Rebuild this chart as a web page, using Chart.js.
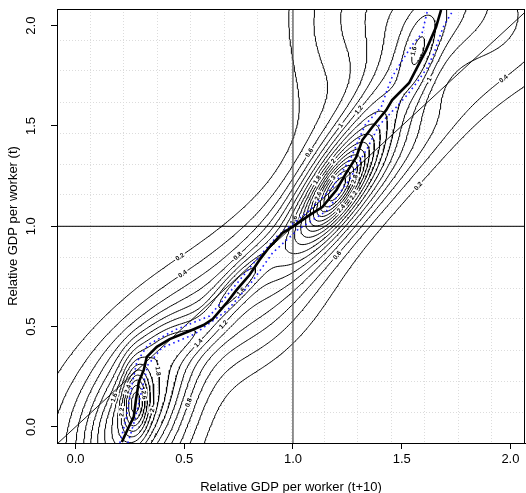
<!DOCTYPE html>
<html>
<head>
<meta charset="utf-8">
<script src="https://cdn.jsdelivr.net/npm/chart.js@4/dist/chart.umd.min.js"></script>
<style>
  html, body { margin: 0; padding: 0; background: #ffffff; }
  #wrap { width: 526px; height: 493px; }
</style>
</head>
<body>
<div id="wrap"><canvas id="c"></canvas></div>
<script>
// ---- axes ----
const xRange = [-0.085, 2.067];
const yRange = [-0.08, 2.083];
const xTicks = [0, 0.5, 1, 1.5, 2];
const yTicks = [0, 0.5, 1, 1.5, 2];
const gridDivisions = 14;

// ---- density surface: elliptical bumps (centre, orientation in degrees, long / short spread, height) ----
const bumpX     = [0.275, 0.24, 0.15, 0.40, 0.47, 0.74, 0.65, 1.20, 1.22, 1.10, 1.45, 1.72, 1.58, 1.12, 1.48, 0.90, 1.38];
const bumpY     = [0.140, 0.00, 0.15, -0.05, 0.44, 0.70, 0.60, 1.18, 1.24, 1.10, 1.65, 2.10, 1.85, 1.75, 1.32, 0.50, 1.95];
const bumpAngle = [88, 65, 55, 75, 22, 52, 42, 60, 60, 50, 62, 0, 78, 88, 45, 50, 85];
const bumpLong  = [0.12, 0.28, 0.40, 0.30, 0.16, 0.16, 0.45, 0.13, 0.30, 0.40, 0.45, 0.38, 0.16, 0.50, 0.50, 0.25, 0.35];
const bumpShort = [0.04, 0.12, 0.17, 0.13, 0.07, 0.045, 0.16, 0.05, 0.09, 0.14, 0.12, 0.25, 0.055, 0.12, 0.095, 0.12, 0.14];
const bumpH     = [1.10, 1.40, 0.45, 0.50, 0.40, 0.70, 0.70, 1.10, 1.30, 0.50, 0.60, 0.80, 0.45, 0.20, 0.45, 0.25, 0.30];

// contour levels
const levels = [0.2, 0.4, 0.6, 0.8, 1, 1.2, 1.4, 1.6, 1.8, 2, 2.2, 2.4, 2.6, 2.8, 3, 3.2, 3.4];

// ---- conditional mode path ----
const pathX = [0.213, 0.245, 0.268, 0.278, 0.291, 0.314, 0.328, 0.374, 0.433, 0.525, 0.589, 0.631, 0.695, 0.741, 0.800, 0.846, 0.892, 0.952, 0.998, 1.076, 1.135, 1.200, 1.245, 1.291, 1.319, 1.365, 1.429, 1.456, 1.534, 1.612, 1.658, 1.681];
const pathY = [-0.075, 0.000, 0.050, 0.135, 0.224, 0.284, 0.349, 0.399, 0.438, 0.478, 0.508, 0.538, 0.618, 0.683, 0.757, 0.832, 0.897, 0.967, 0.997, 1.056, 1.096, 1.181, 1.266, 1.345, 1.430, 1.495, 1.579, 1.629, 1.714, 1.878, 1.993, 2.078];

// ---- band either side of the path ----
const bandLoX = [0.204, 0.232, 0.255, 0.282, 0.333, 0.456, 0.617, 0.718, 0.823, 0.929, 1.067, 1.181, 1.268, 1.332, 1.406, 1.433, 1.456, 1.498, 1.548, 1.594, 1.617];
const bandLoY = [-0.080, 0.035, 0.184, 0.324, 0.409, 0.483, 0.553, 0.683, 0.822, 0.952, 1.071, 1.191, 1.345, 1.505, 1.594, 1.679, 1.744, 1.819, 1.903, 1.963, 2.068];
const bandHiX = [0.241, 0.273, 0.305, 0.333, 0.397, 0.548, 0.700, 0.814, 0.906, 1.021, 1.154, 1.259, 1.342, 1.397, 1.475, 1.525, 1.571, 1.617, 1.649, 1.672, 1.695, 1.732];
const bandHiY = [-0.080, 0.035, 0.184, 0.309, 0.394, 0.463, 0.583, 0.727, 0.867, 0.982, 1.076, 1.231, 1.390, 1.505, 1.594, 1.654, 1.719, 1.789, 1.863, 1.938, 2.003, 2.068];

const FONT = "'Liberation Sans', Arial, Helvetica, sans-serif";

// ---- surface evaluation ----
const bumpCos = bumpAngle.map((a) => Math.cos(a * Math.PI / 180));
const bumpSin = bumpAngle.map((a) => Math.sin(a * Math.PI / 180));
function surface(x, y) {
  let s = 0;
  for (let k = 0; k < bumpX.length; k++) {
    const dx = x - bumpX[k], dy = y - bumpY[k];
    const u = (dx * bumpCos[k] + dy * bumpSin[k]) / bumpLong[k];
    const v = (-dx * bumpSin[k] + dy * bumpCos[k]) / bumpShort[k];
    s += bumpH[k] * Math.exp(-(u * u + v * v) / 2);
  }
  return s;
}

// ---- marching squares, chained into polylines ----
function buildContours() {
  const nx = 260, ny = 260;
  const x0 = xRange[0] - 0.02, x1 = xRange[1] + 0.02;
  const y0 = yRange[0] - 0.02, y1 = yRange[1] + 0.02;
  const gx = [], gy = [];
  for (let i = 0; i < nx; i++) gx.push(x0 + (x1 - x0) * i / (nx - 1));
  for (let j = 0; j < ny; j++) gy.push(y0 + (y1 - y0) * j / (ny - 1));
  const f = new Float64Array(nx * ny);
  for (let j = 0; j < ny; j++) for (let i = 0; i < nx; i++) f[j * nx + i] = surface(gx[i], gy[j]);
  const F = (i, j) => f[j * nx + i];

  const out = [];
  levels.forEach((L) => {
    const pts = new Map();
    const segs = [];
    const hKey = (i, j) => (j * nx + i) * 2;
    const vKey = (i, j) => (j * nx + i) * 2 + 1;
    const pt = (key) => {
      if (pts.has(key)) return key;
      const cell = key >> 1, i = cell % nx, j = (cell - i) / nx;
      let p;
      if ((key & 1) === 0) {
        const a = F(i, j), b = F(i + 1, j), t = (L - a) / (b - a);
        p = { x: gx[i] + t * (gx[i + 1] - gx[i]), y: gy[j] };
      } else {
        const a = F(i, j), b = F(i, j + 1), t = (L - a) / (b - a);
        p = { x: gx[i], y: gy[j] + t * (gy[j + 1] - gy[j]) };
      }
      pts.set(key, p);
      return key;
    };
    for (let j = 0; j < ny - 1; j++) {
      for (let i = 0; i < nx - 1; i++) {
        const v0 = F(i, j), v1 = F(i + 1, j), v2 = F(i + 1, j + 1), v3 = F(i, j + 1);
        const code = (v0 > L ? 1 : 0) | (v1 > L ? 2 : 0) | (v2 > L ? 4 : 0) | (v3 > L ? 8 : 0);
        if (code === 0 || code === 15) continue;
        const B = hKey(i, j), R = vKey(i + 1, j), T = hKey(i, j + 1), Lf = vKey(i, j);
        const add = (a, b) => segs.push([pt(a), pt(b)]);
        const centre = (v0 + v1 + v2 + v3) / 4 > L;
        switch (code) {
          case 1: case 14: add(Lf, B); break;
          case 2: case 13: add(B, R); break;
          case 3: case 12: add(Lf, R); break;
          case 4: case 11: add(R, T); break;
          case 6: case 9: add(B, T); break;
          case 7: case 8: add(Lf, T); break;
          case 5: if (centre) { add(Lf, T); add(B, R); } else { add(Lf, B); add(R, T); } break;
          case 10: if (centre) { add(Lf, B); add(R, T); } else { add(B, R); add(Lf, T); } break;
        }
      }
    }
    const adj = new Map();
    segs.forEach((s, k) => {
      for (const e of s) { if (!adj.has(e)) adj.set(e, []); adj.get(e).push(k); }
    });
    const used = new Uint8Array(segs.length);
    const walk = (start, list) => {
      let end = start;
      for (;;) {
        const nb = adj.get(end).find((m) => !used[m]);
        if (nb === undefined) break;
        used[nb] = 1;
        const s = segs[nb];
        end = s[0] === end ? s[1] : s[0];
        list.push(end);
      }
    };
    for (let k = 0; k < segs.length; k++) {
      if (used[k]) continue;
      used[k] = 1;
      const fwd = [segs[k][0], segs[k][1]];
      walk(segs[k][1], fwd);
      const back = [];
      walk(segs[k][0], back);
      const chain = back.reverse().concat(fwd);
      out.push({ level: L, points: chain.map((key) => pts.get(key)) });
    }
  });
  return out;
}

const contours = buildContours();

// ---- datasets ----
const datasets = [];
contours.forEach((c) => {
  datasets.push({
    data: c.points, showLine: true, borderColor: '#000000', borderWidth: 1,
    pointRadius: 0, tension: 0, order: 10
  });
});
const toXY = (xs, ys) => xs.map((x, i) => ({ x: x, y: ys[i] }));
// reference lines: x = 1, y = 1 and the 45 degree line
datasets.push({ data: [{ x: 1, y: yRange[0] }, { x: 1, y: yRange[1] }], showLine: true, borderColor: '#555555', borderWidth: 1.3, pointRadius: 0, order: 5 });
datasets.push({ data: [{ x: xRange[0], y: 1 }, { x: xRange[1], y: 1 }], showLine: true, borderColor: '#000000', borderWidth: 1, pointRadius: 0, order: 5 });
datasets.push({ data: [{ x: xRange[0], y: xRange[0] }, { x: xRange[1], y: xRange[1] }], showLine: true, borderColor: '#000000', borderWidth: 0.9, pointRadius: 0, order: 5 });
// band and path
datasets.push({ data: toXY(bandLoX, bandLoY), showLine: true, borderColor: '#1a1aff', borderWidth: 1.6, borderDash: [1.6, 3.4], pointRadius: 0, order: 2 });
datasets.push({ data: toXY(bandHiX, bandHiY), showLine: true, borderColor: '#1a1aff', borderWidth: 1.6, borderDash: [1.6, 3.4], pointRadius: 0, order: 2 });
datasets.push({ data: toXY(pathX, pathY), showLine: true, borderColor: '#000000', borderWidth: 2.6, pointRadius: 0, order: 1 });

// ---- contour labels placed on the flattest stretch of each line ----
const contourLabels = {
  id: 'contourLabels',
  afterDatasetDraw(chart, args) {
    if (args.index !== 0) return;
    const ctx = chart.ctx, xs = chart.scales.x, ys = chart.scales.y, area = chart.chartArea;
    ctx.save();
    ctx.font = 'bold 6.5px ' + FONT;
    const placed = [];
    const order = contours.map((c, i) => i).sort((a, b) => contours[a].level - contours[b].level);
    order.forEach((ci) => {
      const c = contours[ci];
      const text = String(c.level);
      const tw = ctx.measureText(text).width;
      const need = tw + 5;
      const P = c.points.map((p) => ({ x: xs.getPixelForValue(p.x), y: ys.getPixelForValue(p.y) }));
      const cum = [0];
      for (let k = 1; k < P.length; k++) cum.push(cum[k - 1] + Math.hypot(P[k].x - P[k - 1].x, P[k].y - P[k - 1].y));
      if (cum[cum.length - 1] < need * 2) return;
      let best = null;
      let b = 0;
      for (let a = 0; a < P.length; a++) {
        if (b < a) b = a;
        while (b < P.length && cum[b] - cum[a] < need) b++;
        if (b >= P.length) break;
        const ax = P[a].x, ay = P[a].y, bx = P[b].x, by = P[b].y;
        const len = Math.hypot(bx - ax, by - ay) || 1;
        let dev = 0;
        for (let m = a + 1; m < b; m++) {
          const d = Math.abs((bx - ax) * (ay - P[m].y) - (ax - P[m].x) * (by - ay)) / len;
          if (d > dev) dev = d;
        }
        const cx = (ax + bx) / 2, cy = (ay + by) / 2;
        if (cx < area.left + 8 || cx > area.right - 8 || cy < area.top + 8 || cy > area.bottom - 8) continue;
        let clash = false;
        for (const q of placed) { if (Math.hypot(q.x - cx, q.y - cy) < 16) { clash = true; break; } }
        if (clash) continue;
        if (!best || dev < best.dev - 1e-6) best = { dev, x: cx, y: cy, ang: Math.atan2(by - ay, bx - ax) };
      }
      if (!best || best.dev > 1.2) return;
      let ang = best.ang;
      if (ang > Math.PI / 2) ang -= Math.PI;
      if (ang < -Math.PI / 2) ang += Math.PI;
      placed.push(best);
      ctx.save();
      ctx.translate(best.x, best.y);
      ctx.rotate(ang);
      ctx.fillStyle = '#ffffff';
      ctx.fillRect(-tw / 2 - 1.5, -3.5, tw + 3, 7);
      ctx.fillStyle = '#000000';
      ctx.textAlign = 'center';
      ctx.textBaseline = 'middle';
      ctx.fillText(text, 0, 0.3);
      ctx.restore();
    });
    ctx.restore();
  }
};

// ---- frame round the plotting region ----
const frame = {
  id: 'frame',
  afterDraw(chart) {
    const a = chart.chartArea, ctx = chart.ctx;
    ctx.save();
    ctx.strokeStyle = '#000000';
    ctx.lineWidth = 1;
    ctx.strokeRect(Math.round(a.left) + 0.5, Math.round(a.top) + 0.5, Math.round(a.right - a.left) - 1, Math.round(a.bottom - a.top));
    ctx.restore();
  }
};

const divisionTicks = (lo, hi) => {
  const t = [];
  for (let k = 1; k < gridDivisions; k++) t.push({ value: lo + (hi - lo) * k / gridDivisions });
  return t;
};

new Chart(document.getElementById('c'), {
  type: 'scatter',
  data: { datasets },
  plugins: [contourLabels, frame],
  options: {
    responsive: true,
    maintainAspectRatio: false,
    animation: false,
    parsing: false,
    normalized: true,
    layout: { padding: { top: 9, right: 1, left: 0, bottom: 0 } },
    plugins: { legend: { display: false }, tooltip: { enabled: false } },
    scales: {
      xg: {
        type: 'linear', position: 'bottom', min: xRange[0], max: xRange[1],
        afterBuildTicks: (s) => { s.ticks = divisionTicks(xRange[0], xRange[1]); },
        afterFit: (s) => { s.height = 0; },
        ticks: { display: false },
        grid: { color: '#dcdcdc', lineWidth: 1, drawTicks: false },
        border: { display: false, dash: [1, 2] }
      },
      yg: {
        type: 'linear', position: 'left', min: yRange[0], max: yRange[1],
        afterBuildTicks: (s) => { s.ticks = divisionTicks(yRange[0], yRange[1]); },
        afterFit: (s) => { s.width = 0; s.paddingTop = 0; s.paddingBottom = 0; },
        ticks: { display: false },
        grid: { color: '#dcdcdc', lineWidth: 1, drawTicks: false },
        border: { display: false, dash: [1, 2] }
      },
      x: {
        type: 'linear', position: 'bottom', min: xRange[0], max: xRange[1],
        afterBuildTicks: (s) => { s.ticks = xTicks.map((v) => ({ value: v })); },
        afterFit: (s) => { s.height = 50; s.paddingLeft = 0; s.paddingRight = 0; },
        ticks: { color: '#000000', font: { family: FONT, size: 13 }, padding: 3, callback: (v) => Number(v).toFixed(1), maxRotation: 0 },
        grid: { drawOnChartArea: false, color: '#000000', tickLength: 6 },
        border: { color: '#000000' },
        title: { display: true, text: 'Relative GDP per worker (t+10)', color: '#000000', font: { family: FONT, size: 13 }, padding: { top: 0, bottom: -2 } }
      },
      y: {
        type: 'linear', position: 'left', min: yRange[0], max: yRange[1],
        afterBuildTicks: (s) => { s.ticks = yTicks.map((v) => ({ value: v })); },
        afterFit: (s) => { s.width = 57; s.paddingTop = 0; s.paddingBottom = 0; },
        ticks: { color: '#000000', font: { family: FONT, size: 13 }, padding: 11, crossAlign: 'center', minRotation: 90, maxRotation: 90, callback: (v) => Number(v).toFixed(1) },
        grid: { drawOnChartArea: false, color: '#000000', tickLength: 6 },
        border: { color: '#000000' },
        title: { display: true, text: 'Relative GDP per worker (t)', color: '#000000', font: { family: FONT, size: 13 }, padding: { top: 6, bottom: 0 } }
      }
    }
  }
});
</script>
</body>
</html>
